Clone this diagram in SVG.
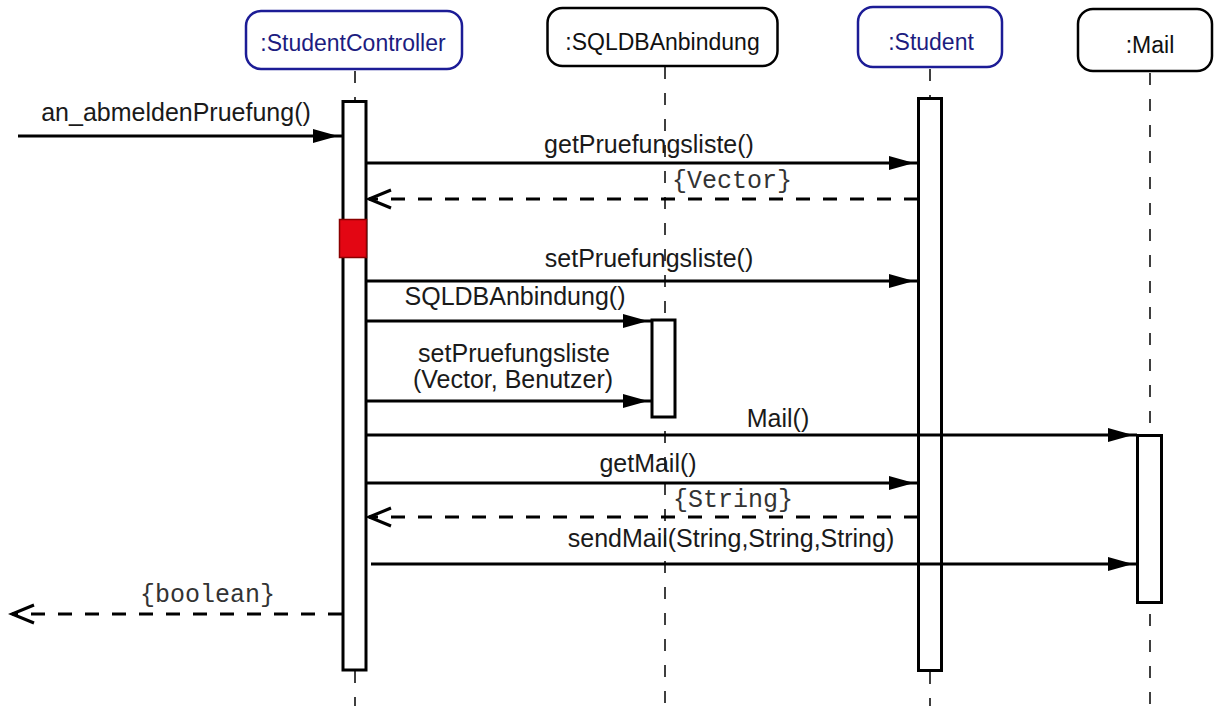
<svg xmlns="http://www.w3.org/2000/svg" width="1216" height="706" viewBox="0 0 1216 706">
<style>
.hdr{fill:#fff;stroke:#000;stroke-width:2.5}
.hdrb{fill:#fff;stroke:#1c1c96;stroke-width:2.5}
.ht{font-family:"Liberation Sans",Arial,sans-serif;font-size:23px;fill:#111;text-anchor:middle}
.htb{fill:#1c1c80}
.life{stroke:#000;stroke-width:1.5;stroke-dasharray:12 14;fill:none}
.act{fill:#fff;stroke:#000;stroke-width:3}
.msg{stroke:#000;stroke-width:3;fill:none;marker-end:url(#filled)}
.ret{stroke:#000;stroke-width:3;fill:none;stroke-dasharray:14 13;marker-end:url(#open)}
.ml{font-family:"Liberation Sans",Arial,sans-serif;font-size:25px;fill:#1a1a1a;text-anchor:middle}
.rl{font-family:"Liberation Mono","Courier New",monospace;font-size:25px;fill:#333}
</style>
<defs>
<marker id="filled" markerUnits="userSpaceOnUse" markerWidth="32" markerHeight="18" refX="29" refY="8" orient="auto" overflow="visible">
<path d="M0,1 L25,8 L0,15 Z" fill="#000" stroke="none"/>
</marker>
<marker id="open" markerUnits="userSpaceOnUse" markerWidth="26" markerHeight="22" refX="23" refY="10" orient="auto" overflow="visible">
<path d="M1,1 L23,10 L1,19" fill="none" stroke="#000" stroke-width="3" stroke-dasharray="none"/>
</marker>
</defs>
<rect width="1216" height="706" fill="#fff"/>

<g id="StudentController">
<line class="life" x1="355" y1="71" x2="355" y2="101"/>
<line class="life" x1="355" y1="671" x2="355" y2="706"/>
<rect class="hdrb" x="246" y="11" width="216" height="58" rx="15"/>
<text class="ht htb" x="353" y="51">:StudentController</text>
<rect class="act" x="343" y="101.5" width="23" height="568.5"/>
<rect x="339.5" y="219.5" width="27" height="38" fill="#e30613" stroke="#8a0000" stroke-width="1.5"/>
</g>

<g id="SQLDBAnbindung">
<line class="life" x1="665" y1="67" x2="665" y2="706"/>
<rect class="hdr" x="547.5" y="8" width="230" height="58" rx="15"/>
<text class="ht" x="662.5" y="50">:SQLDBAnbindung</text>
<rect class="act" x="652" y="320" width="23" height="97"/>
</g>

<g id="Student">
<line class="life" x1="930" y1="69" x2="930" y2="98"/>
<line class="life" x1="930" y1="672" x2="930" y2="706"/>
<rect class="hdrb" x="858" y="7" width="144" height="60" rx="15"/>
<text class="ht htb" x="931" y="50">:Student</text>
<rect class="act" x="918.5" y="98.5" width="23" height="572"/>
</g>

<g id="Mail">
<line class="life" x1="1150" y1="73" x2="1150" y2="435"/>
<line class="life" x1="1150" y1="614" x2="1150" y2="706"/>
<rect class="hdr" x="1078" y="9" width="134" height="62" rx="15"/>
<text class="ht" x="1150" y="53">:Mail</text>
<rect class="act" x="1137.5" y="435.5" width="24" height="167"/>
</g>

<g id="connectors">
<line class="msg" x1="18" y1="136" x2="342" y2="136"/>
<text class="ml" x="176" y="121">an_abmeldenPruefung()</text>

<line class="msg" x1="367" y1="163" x2="918" y2="163"/>
<text class="ml" x="649" y="153">getPruefungsliste()</text>

<line class="ret" x1="918" y1="199" x2="369" y2="199"/>
<text class="rl" x="672" y="188">{Vector}</text>

<line class="msg" x1="367" y1="281" x2="918" y2="281"/>
<text class="ml" x="649" y="267">setPruefungsliste()</text>

<line class="msg" x1="367" y1="321" x2="652" y2="321"/>
<text class="ml" x="515" y="305">SQLDBAnbindung()</text>

<line class="msg" x1="365" y1="401" x2="652" y2="401"/>
<text class="ml" x="514" y="362">setPruefungsliste</text>
<text class="ml" x="513" y="388">(Vector, Benutzer)</text>

<line class="msg" x1="367" y1="435" x2="1137" y2="435"/>
<text class="ml" x="778" y="427">Mail()</text>

<line class="msg" x1="367" y1="483" x2="918" y2="483"/>
<text class="ml" x="648" y="472">getMail()</text>

<line class="ret" x1="918" y1="517" x2="369" y2="517"/>
<text class="rl" x="673" y="507">{String}</text>

<line class="msg" x1="371" y1="564" x2="1137" y2="564"/>
<text class="ml" x="731" y="547">sendMail(String,String,String)</text>

<line class="ret" x1="342" y1="614" x2="12" y2="614"/>
<text class="rl" x="140" y="602">{boolean}</text>
</g>
</svg>
